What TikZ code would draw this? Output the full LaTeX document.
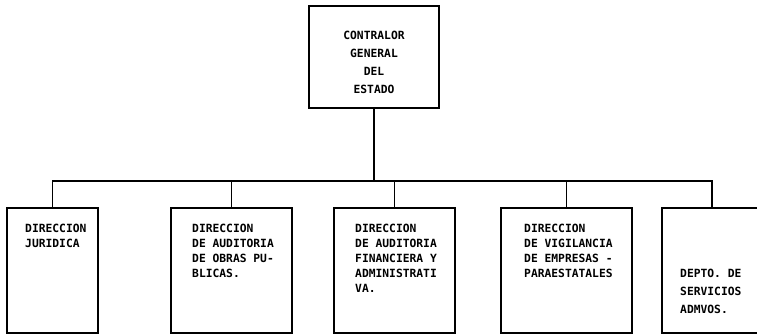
\documentclass[tikz,border=0pt]{standalone}
\usepackage{fontspec}
\newfontfamily\tw{DejaVu Sans Mono}
\begin{document}
\begin{tikzpicture}[x=1pt,y=-1pt,
  box/.style={draw=black, line width=1.2pt, rectangle, inner sep=0pt},
  conn/.style={draw=black, line width=1.2pt},
  txt/.style={font=\tw\bfseries\fontsize{11.3}{15}\selectfont, align=left, inner sep=0pt, anchor=north west},
  ttxt/.style={font=\tw\bfseries\fontsize{11.3}{18}\selectfont, align=center, inner sep=0pt, anchor=north}]
\fill[white] (0,0) rectangle (757,336);
\clip (0,0) rectangle (757,336);
% top box
\node[box, minimum width=130pt, minimum height=102pt] (top) at (374,57) {};
\node[ttxt] (toptext) at (374,31) {CONTRALOR\\GENERAL\\DEL\\ESTADO};
% lower boxes
\node[box, minimum width=91pt,  minimum height=125pt] (b1) at (52.5,270.5) {};
\node[box, minimum width=121pt, minimum height=125pt] (b2) at (231.5,270.5) {};
\node[box, minimum width=121pt, minimum height=125pt] (b3) at (394.5,270.5) {};
\node[box, minimum width=131pt, minimum height=125pt] (b4) at (566.5,270.5) {};
\node[box, minimum width=100pt, minimum height=125pt] (b5) at (712,270.5) {};
% texts
\node[txt] (t1) at (25,224) {DIRECCION\\JURIDICA};
\node[txt] (t2) at (192,224) {DIRECCION\\DE AUDITORIA\\DE OBRAS PU-\\BLICAS.};
\node[txt] (t3) at (355,224) {DIRECCION\\DE AUDITORIA\\FINANCIERA Y\\ADMINISTRATI\\VA.};
\node[txt] (t4) at (524,224) {DIRECCION\\DE VIGILANCIA\\DE EMPRESAS -\\PARAESTATALES};
\node[txt, font=\tw\bfseries\fontsize{11.3}{18}\selectfont] (t5) at (680,269) {DEPTO. DE\\SERVICIOS\\ADMVOS.};
% connectors
\coordinate (busy) at (0,181);
\draw[conn] (top.south) -- (top.south |- busy) coordinate (hub);
\foreach \b in {b1,b2,b3,b4,b5} \draw[conn] (hub) -| (\b.north);
\end{tikzpicture}
\end{document}
